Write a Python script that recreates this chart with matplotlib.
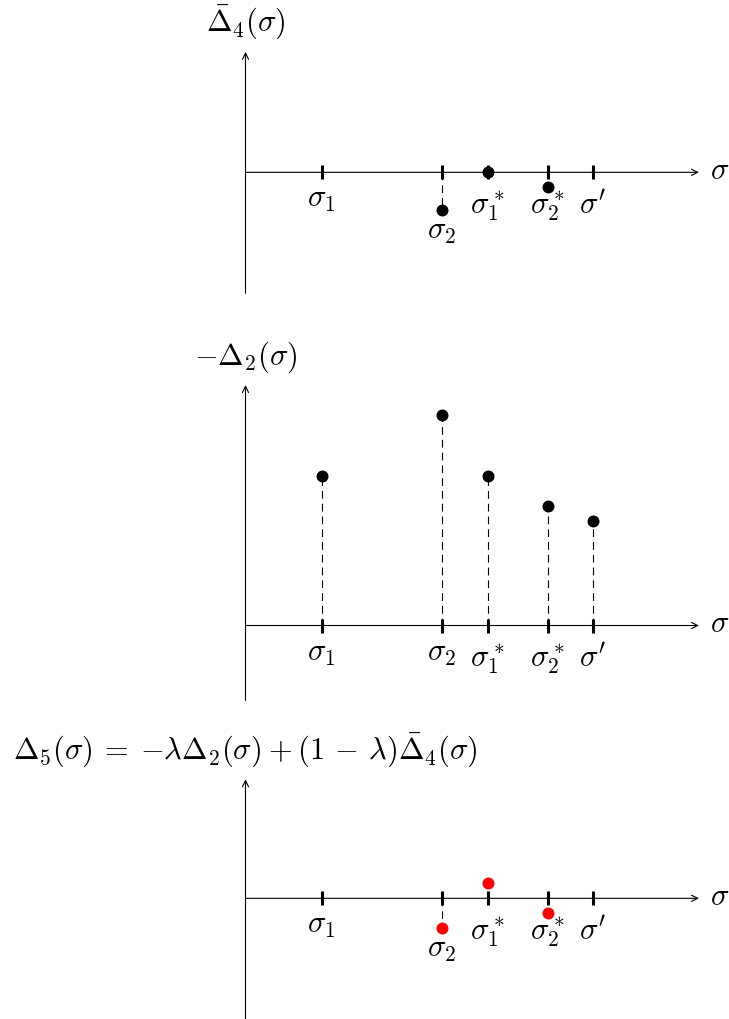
import numpy as np
import matplotlib
matplotlib.use("Agg")
import matplotlib.pyplot as plt

plt.rcParams.update({
    "mathtext.fontset": "cm",
    "font.family": ["DejaVu Sans"],
})

W, H = 729, 1019
FS = 22

# tick positions on the sigma axis (origin = y-axis)
tick_pos = [0.76, 1.965, 2.42, 3.02, 3.475]
tick_labels = [r"$\sigma_1$", r"$\sigma_2$", r"$\sigma_1^*$", r"$\sigma_2^*$", r"$\sigma'$"]

# values at each tick (nan = no point)
delta4_bar = [np.nan, -0.38, 0.0, -0.15, np.nan]
minus_delta2 = [1.50, 2.11, 1.50, 1.20, 1.05]
delta5 = [np.nan, -0.30, 0.15, -0.145, np.nan]

titles = [r"$\bar{\Delta}_4(\sigma)$",
          r"$-\Delta_2(\sigma)$",
          r"$\Delta_5(\sigma)\:=\:{-}\lambda\Delta_2(\sigma)\:+\:(1\,-\,\lambda)\bar{\Delta}_4(\sigma)$"]

fig = plt.figure(figsize=(W / 100, H / 100), dpi=100)


def make_panel(top, bottom, oy, y_top, y_bot, values, color, dashed_idx, below_point):
    ax = fig.add_axes([0, (H - bottom) / H, 1, (bottom - top) / H])
    ax.set_xlim(-2.455, (W - 245.5) / 100)
    ax.set_ylim((oy - bottom) / 100, (oy - top) / 100)
    ax.axis("off")

    arrow = dict(arrowstyle="->,head_length=0.45,head_width=0.22", lw=0.8, color="black",
                 shrinkA=0, shrinkB=0)
    ax.annotate("", xy=(4.535, 0), xytext=(0, 0), arrowprops=arrow)
    ax.annotate("", xy=(0, y_top), xytext=(0, y_bot), arrowprops=arrow)
    ax.text(4.745, -0.065, r"$\sigma$", fontsize=FS, ha="center", va="baseline")

    for i, (x, lab) in enumerate(zip(tick_pos, tick_labels)):
        v = values[i]
        if i in dashed_idx and not np.isnan(v):
            ax.plot([x, x], [0, v], color="black", lw=0.8, ls=(0, (7, 4.5)), zorder=1)
        ax.plot([x, x], [-0.07, 0.07], color="black", lw=2.2, solid_capstyle="butt", zorder=2)
        if not np.isnan(v):
            ax.plot(x, v, "o", color=color, ms=7.6, mec=color, zorder=3)
        if i in below_point:
            ax.text(x, v - 0.285, lab, fontsize=FS, ha="center", va="baseline")
        elif i >= 2:
            ax.text(x, -0.41, lab, fontsize=FS, ha="center", va="baseline")
        else:
            ax.text(x, -0.35, lab, fontsize=FS, ha="center", va="baseline")
    return ax


ax1 = make_panel(0, 330, 172.3, 1.205, -1.21, delta4_bar, "black", [1], [1])
ax1.text(0, 1.205 + 0.20, titles[0], fontsize=FS, ha="center", va="baseline")

ax2 = make_panel(330, 720, 625.5, 2.405, -0.75, minus_delta2, "black", [0, 1, 2, 3, 4], [])
ax2.text(0, 2.405 + 0.20, titles[1], fontsize=FS, ha="center", va="baseline")

ax3 = make_panel(720, 1019, 898.3, 1.19, -1.21, delta5, "#ff0000", [1], [1])
ax3.text(0, 1.19 + 0.20, titles[2], fontsize=FS, ha="center", va="baseline")

fig.savefig("out.png", dpi=100)
